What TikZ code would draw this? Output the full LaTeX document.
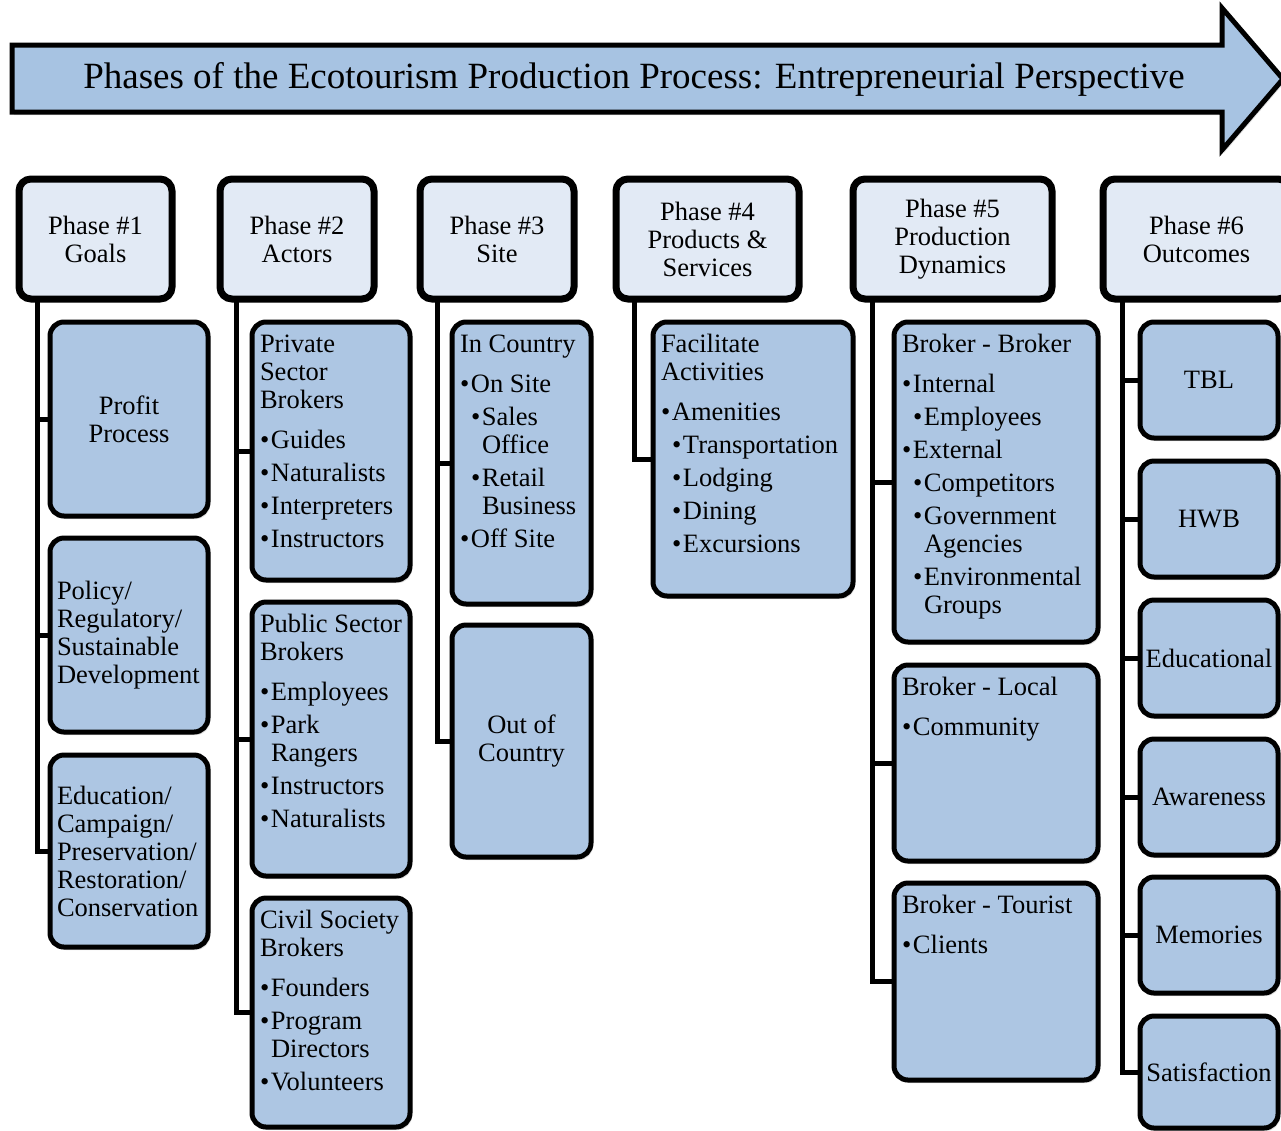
\documentclass[tikz,border=0pt]{standalone}
\usepackage{fontspec}
\setmainfont{Liberation Serif}
\usetikzlibrary{shadows}
\definecolor{phasefill}{RGB}{226,234,245}
\definecolor{itemfill}{RGB}{173,198,227}
\definecolor{bannerfill}{RGB}{167,195,226}
\newcommand{\bul}{\makebox[11pt][l]{•}}
\newcommand{\ind}{\hspace*{11pt}}
\newcommand{\listtext}[3]{\parbox[t][#2pt][t]{#1pt}{\raggedright\strut #3}}

\begin{document}
\begin{tikzpicture}
	[x=1pt,y=-1pt,
	font=\fontsize{26.5}{28}\selectfont,
	every node/.style={inner sep=0pt,outer sep=0pt},
	softshadow/.style={drop shadow={shadow xshift=2pt,shadow yshift=-3pt,opacity=0.25}},
	phase/.style={draw,line width=7pt,rounded corners=12pt,fill=phasefill,softshadow,
		anchor=north west,align=center,minimum height=120pt},
	item/.style={draw,line width=5pt,rounded corners=14pt,fill=itemfill,softshadow,anchor=north west},
	listbox/.style={item,inner xsep=8pt,inner ysep=11pt},
	midbox/.style={item,align=center,inner xsep=3pt},
	leftbox/.style={item,align=left,inner xsep=7pt,text width=144pt},
	link/.style={line width=5pt,line join=miter}]

	\useasboundingbox (0,0) rectangle (1281,1130);
	\clip (0,0) rectangle (1281,1130);

	% banner
	\draw[line width=5pt,fill=bannerfill,softshadow]
		(12,45) -- (1222,45) -- (1222,8) -- (1283,79) -- (1222,150) -- (1222,112) -- (12,112) -- cycle;
	\node (title) at (634,79) {\fontsize{37}{40}\selectfont Phases of the Ecotourism Production Process: Entrepreneurial Perspective};

	% phases
	\node[phase,minimum width=153pt] (p1) at (19,179) {Phase \#1\\Goals};
	\node[phase,minimum width=154pt] (p2) at (220,179) {Phase \#2\\Actors};
	\node[phase,minimum width=154pt] (p3) at (420,179) {Phase \#3\\Site};
	\node[phase,minimum width=183pt] (p4) at (616,179) {Phase \#4\\Products \&\\Services};
	\node[phase,minimum width=199pt] (p5) at (853,179) {Phase \#5\\Production\\Dynamics};
	\node[phase,minimum width=187pt] (p6) at (1103,179) {Phase \#6\\Outcomes};

	% goals
	\node[midbox,minimum width=158pt,minimum height=194pt] (g1) at (50,322) {Profit\\Process};
	\node[leftbox,minimum height=194pt] (g2) at (50,538) {Policy/\\Regulatory/\\Sustainable\\Development};
	\node[leftbox,minimum height=192pt] (g3) at (50,755) {Education/\\Campaign/\\Preservation/\\Restoration/\\Conservation};

	% actors
	\node[listbox] (a1) at (252,322) {\listtext{142}{236}{Private\\Sector\\Brokers\\[12pt]
		\bul Guides\\[5pt]\bul Naturalists\\[5pt]\bul Interpreters\\[5pt]\bul Instructors}};
	\node[listbox] (a2) at (252,602) {\listtext{142}{252}{Public Sector\\Brokers\\[12pt]
		\bul Employees\\[5pt]\bul Park\\\ind Rangers\\[5pt]\bul Instructors\\[5pt]\bul Naturalists}};
	\node[listbox] (a3) at (252,898) {\listtext{142}{207}{Civil Society\\Brokers\\[12pt]
		\bul Founders\\[5pt]\bul Program\\\ind Directors\\[5pt]\bul Volunteers}};

	% site
	\node[listbox] (s1) at (452,322) {\listtext{123}{260}{In Country\\[12pt]
		\bul On Site\\[5pt]\ind\bul Sales\\\ind\ind Office\\[5pt]\ind\bul Retail\\\ind\ind Business\\[5pt]\bul Off Site}};
	\node[midbox,minimum width=139pt,minimum height=232pt] (s2) at (452,625) {Out of\\Country};

	% products and services
	\node[listbox] (f1) at (653,322) {\listtext{184}{252}{Facilitate\\Activities\\[12pt]
		\bul Amenities\\[5pt]\ind\bul Transportation\\[5pt]\ind\bul Lodging\\[5pt]\ind\bul Dining\\[5pt]\ind\bul Excursions}};

	% production dynamics
	\node[listbox] (b1) at (894,322) {\listtext{188}{298}{Broker - Broker\\[12pt]
		\bul Internal\\[5pt]\ind\bul Employees\\[5pt]\bul External\\[5pt]\ind\bul Competitors\\[5pt]
		\ind\bul Government\\\ind\ind Agencies\\[5pt]\ind\bul Environmental\\\ind\ind Groups}};
	\node[listbox] (b2) at (894,665) {\listtext{188}{174}{Broker - Local\\[12pt]\bul Community}};
	\node[listbox] (b3) at (894,883) {\listtext{188}{175}{Broker - Tourist\\[12pt]\bul Clients}};

	% outcomes
	\node[midbox,minimum width=138pt,minimum height=116pt] (o1) at (1140,322) {TBL};
	\node[midbox,minimum width=138pt,minimum height=116pt] (o2) at (1140,461) {HWB};
	\node[midbox,minimum width=138pt,minimum height=116pt] (o3) at (1140,600) {Educational};
	\node[midbox,minimum width=138pt,minimum height=116pt] (o4) at (1140,739) {Awareness};
	\node[midbox,minimum width=138pt,minimum height=116pt] (o5) at (1140,877) {Memories};
	\node[midbox,minimum width=138pt,minimum height=112pt] (o6) at (1140,1016) {Satisfaction};

	% links
	\foreach \c in {g1,g2,g3} \draw[link] ([xshift=18pt]p1.south west) |- (\c.west);
	\foreach \c in {a1,a2,a3} \draw[link] ([xshift=16pt]p2.south west) |- (\c.west);
	\foreach \c in {s1,s2} \draw[link] ([xshift=17pt]p3.south west) |- (\c.west);
	\draw[link] ([xshift=18pt]p4.south west) |- (f1.west);
	\foreach \c in {b1,b2,b3} \draw[link] ([xshift=19pt]p5.south west) |- (\c.west);
	\foreach \c in {o1,o2,o3,o4,o5,o6} \draw[link] ([xshift=19pt]p6.south west) |- (\c.west);

\end{tikzpicture}
\end{document}
